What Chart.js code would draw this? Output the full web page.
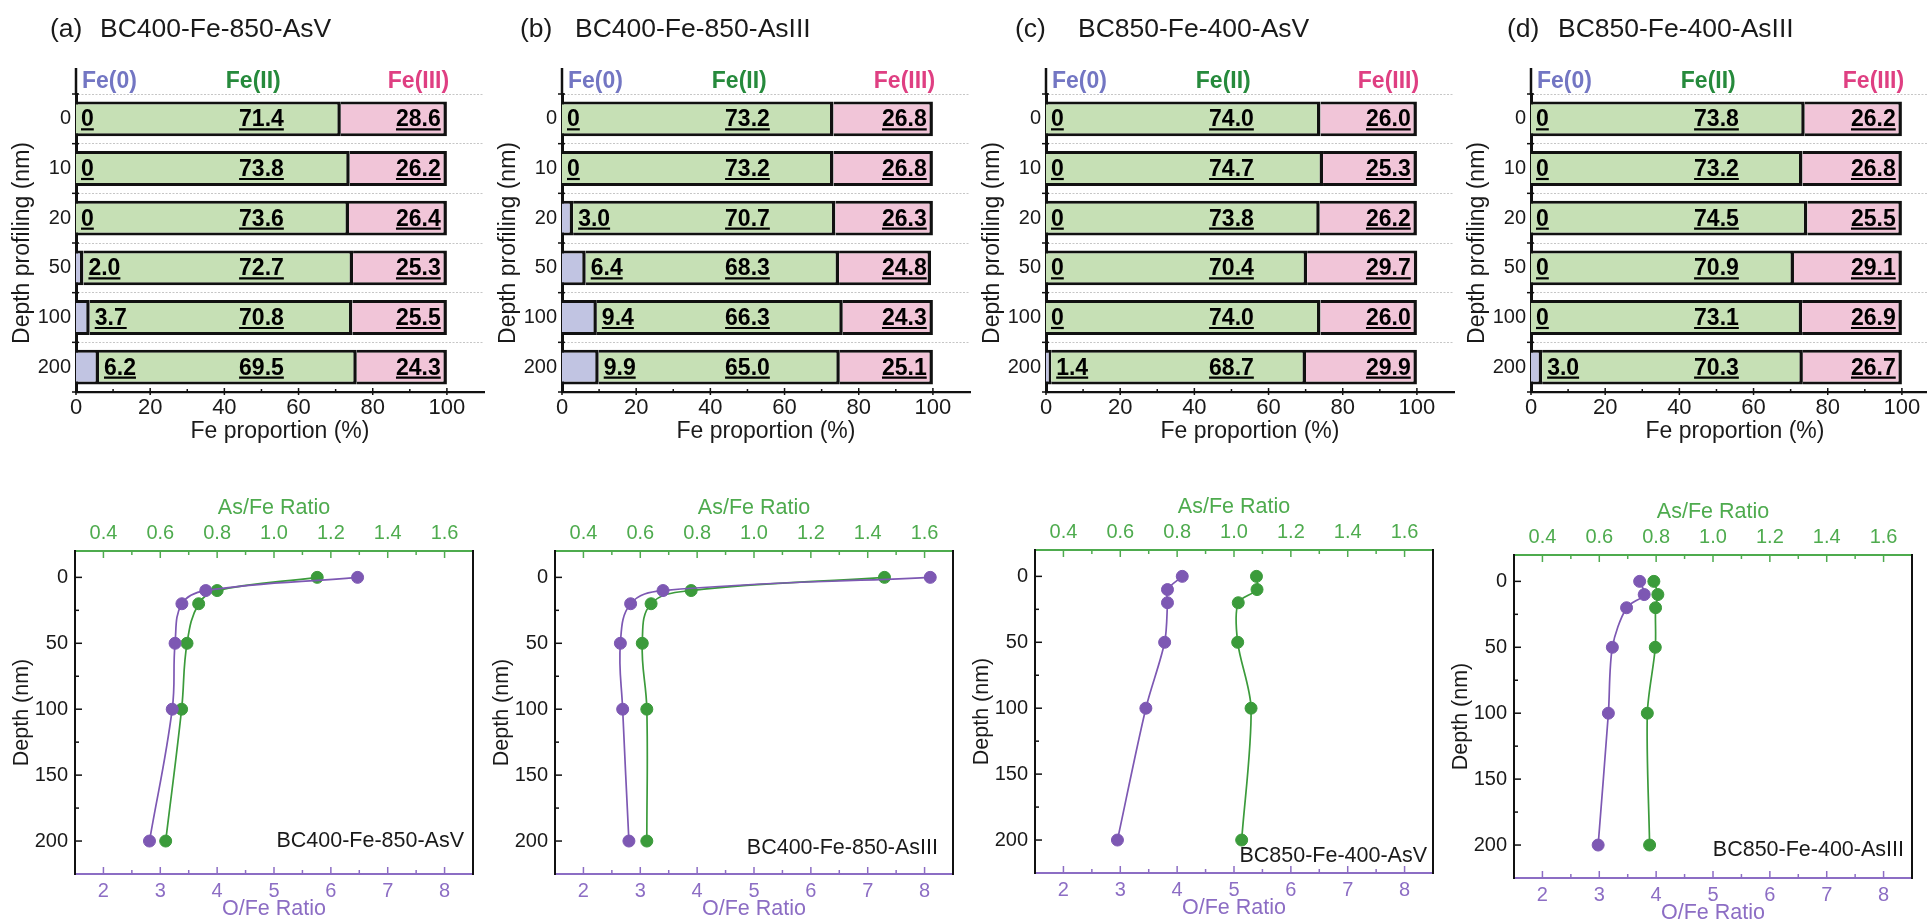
<!DOCTYPE html>
<html><head><meta charset="utf-8">
<script src="https://cdn.jsdelivr.net/npm/chart.js@4.4.1/dist/chart.umd.min.js"></script>
<style>
html,body{margin:0;padding:0;background:#fff;width:1927px;height:922px;overflow:hidden;position:relative;font-family:'Liberation Sans',Arial,Helvetica,sans-serif;}
canvas{position:absolute;}
.pt{position:absolute;font-size:26.5px;line-height:32px;color:#1a1a1a;white-space:nowrap;}
</style></head><body>
<script>
// ---------- data ----------
const depthLabels = ['0','10','20','50','100','200'];
const depthValues = [0,10,20,50,100,200];
const pctTicks = [0,20,40,60,80,100];
const oTicks = [2,3,4,5,6,7,8];
const asTicks = [0.4,0.6,0.8,1.0,1.2,1.4,1.6];
const depthTicks = [0,50,100,150,200];
const panelLetters = ['(a)','(b)','(c)','(d)'];
const panelNames = ['BC400-Fe-850-AsV','BC400-Fe-850-AsIII','BC850-Fe-400-AsV','BC850-Fe-400-AsIII'];
const speciesNames = ['Fe(0)','Fe(II)','Fe(III)'];

const fe0A = [0,0,0,2.0,3.7,6.2];
const fe2A = [71.4,73.8,73.6,72.7,70.8,69.5];
const fe3A = [28.6,26.2,26.4,25.3,25.5,24.3];
const fe0B = [0,0,3.0,6.4,9.4,9.9];
const fe2B = [73.2,73.2,70.7,68.3,66.3,65.0];
const fe3B = [26.8,26.8,26.3,24.8,24.3,25.1];
const fe0C = [0,0,0,0,0,1.4];
const fe2C = [74.0,74.7,73.8,70.4,74.0,68.7];
const fe3C = [26.0,25.3,26.2,29.7,26.0,29.9];
const fe0D = [0,0,0,0,0,3.0];
const fe2D = [73.8,73.2,74.5,70.9,73.1,70.3];
const fe3D = [26.2,26.8,25.5,29.1,26.9,26.7];

const ofeA = [6.47,3.80,3.38,3.26,3.21,2.81];
const asfeA = [1.152,0.800,0.735,0.694,0.675,0.619];
const ofeB = [8.10,3.40,2.83,2.65,2.69,2.80];
const asfeB = [1.459,0.779,0.638,0.607,0.623,0.623];
const ofeC = [4.09,3.83,3.83,3.78,3.45,2.95];
const asfeC = [1.079,1.081,1.015,1.013,1.060,1.027];
const ofeD = [3.71,3.79,3.48,3.23,3.16,2.98];
const asfeD = [0.792,0.806,0.798,0.797,0.769,0.777];

// ---------- styles ----------
const FONT = "'Liberation Sans', Arial, Helvetica, sans-serif";
const TXT = '#1a1a1a';
const FE0_FILL = '#c1c4e2', FE2_FILL = '#c6e0b5', FE3_FILL = '#f1c5d8';
const HEAD_COLORS = ['#7376c3', '#268a3c', '#df3f82'];
const PURPLE = '#7d58b3', PURPLE_TXT = '#8c6dc4';
const GREEN = '#3b9b3b', GREEN_TXT = '#4eab4e';

Chart.defaults.font.family = FONT;
Chart.defaults.color = TXT;

function makeCanvas(left, top, w, h) {
  const c = document.createElement('canvas');
  c.width = w; c.height = h;
  c.style.left = left + 'px'; c.style.top = top + 'px';
  c.style.width = w + 'px'; c.style.height = h + 'px';
  document.body.appendChild(c);
  return c;
}
function addText(cls, txt, left, top) {
  const d = document.createElement('div');
  d.className = cls; d.textContent = txt;
  d.style.left = left + 'px'; d.style.top = top + 'px';
  document.body.appendChild(d);
}
function tickLine(ctx, x1, y1, x2, y2) { ctx.beginPath(); ctx.moveTo(x1, y1); ctx.lineTo(x2, y2); ctx.stroke(); }

// ---------- top stacked bar panels ----------
function barDecor(p) {
  return {
    id: 'barDecor',
    afterDraw(chart) {
      const ctx = chart.ctx, xs = chart.scales.x, ys = chart.scales.y, ca = chart.chartArea;
      ctx.save();
      ctx.strokeStyle = '#111'; ctx.lineWidth = 2.5;
      tickLine(ctx, ca.left, ca.top - 26, ca.left, ca.top + 1);
      ctx.lineWidth = 1.5;
      for (let i = 0; i <= depthLabels.length; i++) {
        const y = ys.getPixelForValue(i - 0.5);
        tickLine(ctx, ca.left - 4, y, ca.left + 3, y);
      }
      for (const v of pctTicks) { const x = xs.getPixelForValue(v); tickLine(ctx, x, ca.bottom + 3, x, ca.bottom - 4); }
      for (let k = 0; k < pctTicks.length - 1; k++) {
        const x = xs.getPixelForValue((pctTicks[k] + pctTicks[k + 1]) / 2);
        tickLine(ctx, x, ca.bottom + 1, x, ca.bottom - 3);
      }
      // species headers
      ctx.font = 'bold 23px ' + FONT; ctx.textBaseline = 'middle';
      const hy = ca.top - 12;
      ctx.fillStyle = HEAD_COLORS[0]; ctx.textAlign = 'left';
      ctx.fillText(speciesNames[0], ca.left + 6, hy);
      ctx.fillStyle = HEAD_COLORS[1]; ctx.textAlign = 'center';
      ctx.fillText(speciesNames[1], xs.getPixelForValue(47.8), hy);
      ctx.fillStyle = HEAD_COLORS[2]; ctx.textAlign = 'right';
      ctx.fillText(speciesNames[2], xs.getPixelForValue(100.6), hy);
      // value labels (bold, underlined)
      ctx.fillStyle = '#000'; ctx.strokeStyle = '#000'; ctx.lineWidth = 2.2;
      ctx.textBaseline = 'alphabetic'; ctx.textAlign = 'left';
      const fmt = v => (v === 0 ? '0' : v.toFixed(1));
      for (let i = 0; i < depthLabels.length; i++) {
        const base = ys.getPixelForValue(i) + 7.5;
        const items = [
          [fmt(p.fe0[i]), xs.getPixelForValue(p.fe0[i]) + 5, 'left'],
          [fmt(p.fe2[i]), xs.getPixelForValue(50), 'center'],
          [fmt(p.fe3[i]), xs.getPixelForValue(92.3), 'center']
        ];
        for (const [t, x, al] of items) {
          const w = ctx.measureText(t).width;
          const x0 = al === 'left' ? x : x - w / 2;
          ctx.fillText(t, x0, base);
          tickLine(ctx, x0, base + 3, x0 + w, base + 3);
        }
      }
      ctx.restore();
    }
  };
}

function barChart(p) {
  const cv = makeCanvas(p.left, 0, 485, 450);
  const ds = [
    { label: speciesNames[0], data: p.fe0, backgroundColor: FE0_FILL },
    { label: speciesNames[1], data: p.fe2, backgroundColor: FE2_FILL },
    { label: speciesNames[2], data: p.fe3, backgroundColor: FE3_FILL }
  ].map(d => Object.assign(d, {
    borderColor: '#111', borderWidth: { top: 3, bottom: 3, left: 0, right: 3.5 },
    borderSkipped: false, barPercentage: 0.7, categoryPercentage: 1, inflateAmount: 0
  }));
  new Chart(cv, {
    type: 'bar',
    data: { labels: depthLabels, datasets: ds },
    options: {
      indexAxis: 'y', responsive: false, animation: false, devicePixelRatio: 1,
      layout: { padding: { top: 94, right: 1, left: 0, bottom: 0 } },
      plugins: { legend: { display: false }, tooltip: { enabled: false } },
      scales: {
        x: {
          type: 'linear', stacked: true, min: 0, max: 110,
          afterBuildTicks: s => { s.ticks = pctTicks.map(v => ({ value: v })); },
          afterFit: s => { s.height = 58; },
          grid: { display: false, drawTicks: false },
          border: { color: '#111', width: 2.2 },
          ticks: { font: { size: 22 }, color: TXT, padding: 3, autoSkip: false, maxRotation: 0 },
          title: { display: true, text: 'Fe proportion (%)', font: { size: 23 }, color: TXT, padding: { top: 0, bottom: 4.5 } }
        },
        y: {
          type: 'category', stacked: true, offset: true,
          afterFit: s => { s.width = 76; },
          grid: { display: true, color: '#c6c6c6', lineWidth: 1, drawTicks: false },
          border: { color: '#111', width: 3, dash: [2, 1.5] },
          ticks: { font: { size: 20 }, color: TXT, padding: 5 },
          title: { display: true, text: 'Depth profiling (nm)', font: { size: 23 }, color: TXT, padding: { top: 9, bottom: 0 } }
        }
      }
    },
    plugins: [barDecor(p)]
  });
}

// ---------- bottom ratio panels ----------
function lineDecor(p) {
  return {
    id: 'lineDecor',
    afterDraw(chart) {
      const ctx = chart.ctx, ca = chart.chartArea, xt = chart.scales.xt, xb = chart.scales.xb, ys = chart.scales.y;
      ctx.save();
      ctx.lineWidth = 2; ctx.strokeStyle = '#111';
      tickLine(ctx, ca.right, ca.top - 1, ca.right, ca.bottom + 1);
      ctx.lineWidth = 1.5;
      ctx.strokeStyle = GREEN_TXT;
      asTicks.forEach((v, k) => {
        const x = xt.getPixelForValue(v); tickLine(ctx, x, ca.top, x, ca.top + 7);
        if (k < asTicks.length - 1) { const xm = xt.getPixelForValue((v + asTicks[k + 1]) / 2); tickLine(ctx, xm, ca.top, xm, ca.top + 4); }
      });
      ctx.strokeStyle = PURPLE_TXT;
      oTicks.forEach((v, k) => {
        const x = xb.getPixelForValue(v); tickLine(ctx, x, ca.bottom, x, ca.bottom - 7);
        if (k < oTicks.length - 1) { const xm = xb.getPixelForValue((v + oTicks[k + 1]) / 2); tickLine(ctx, xm, ca.bottom, xm, ca.bottom - 4); }
      });
      ctx.strokeStyle = '#111';
      depthTicks.forEach((v, k) => {
        const y = ys.getPixelForValue(v); tickLine(ctx, ca.left, y, ca.left + 7, y);
        if (k < depthTicks.length - 1) { const ym = ys.getPixelForValue((v + depthTicks[k + 1]) / 2); tickLine(ctx, ca.left, ym, ca.left + 4, ym); }
      });
      ctx.fillStyle = TXT; ctx.font = '21.5px ' + FONT;
      ctx.textAlign = 'right'; ctx.textBaseline = 'middle';
      ctx.fillText(p.name, ca.right - p.annDx, ys.getPixelForValue(p.annDepth));
      ctx.restore();
    }
  };
}

function ratioChart(p) {
  const cv = makeCanvas(p.left, p.top, 480, 482);
  const common = { showLine: true, tension: p.tension, pointRadius: 6, pointHoverRadius: 6, borderWidth: 1.7, pointBorderWidth: 1 };
  new Chart(cv, {
    type: 'scatter',
    data: {
      datasets: [
        Object.assign({ label: 'O/Fe Ratio', data: depthValues.map((d, i) => ({ x: p.ofe[i], y: d })), xAxisID: 'xb', yAxisID: 'y', borderColor: PURPLE, backgroundColor: PURPLE }, common),
        Object.assign({ label: 'As/Fe Ratio', data: depthValues.map((d, i) => ({ x: p.asfe[i], y: d })), xAxisID: 'xt', yAxisID: 'y', borderColor: GREEN, backgroundColor: GREEN }, common)
      ]
    },
    options: {
      responsive: false, animation: false, devicePixelRatio: 1,
      layout: { padding: { top: 0, right: 1, left: 0, bottom: 0 } },
      plugins: { legend: { display: false }, tooltip: { enabled: false } },
      scales: {
        xt: {
          type: 'linear', position: 'top', min: 0.3, max: 1.7,
          afterBuildTicks: s => { s.ticks = asTicks.map(v => ({ value: v })); },
          afterFit: s => { s.height = 111; },
          grid: { display: false, drawTicks: false },
          border: { color: GREEN_TXT, width: 2 },
          ticks: { font: { size: 20 }, color: GREEN_TXT, padding: 6, autoSkip: false, maxRotation: 0, callback: v => Number(v).toFixed(1) },
          title: { display: true, text: 'As/Fe Ratio', font: { size: 21.5 }, color: GREEN_TXT, padding: { top: 55, bottom: 0 } }
        },
        xb: {
          type: 'linear', position: 'bottom', min: 1.5, max: 8.5,
          afterBuildTicks: s => { s.ticks = oTicks.map(v => ({ value: v })); },
          afterFit: s => { s.height = 48; },
          grid: { display: false, drawTicks: false },
          border: { color: PURPLE_TXT, width: 2 },
          ticks: { font: { size: 20 }, color: PURPLE_TXT, padding: 5, autoSkip: false, maxRotation: 0 },
          title: { display: true, text: 'O/Fe Ratio', font: { size: 21.5 }, color: PURPLE_TXT, padding: { top: 0, bottom: 0 } }
        },
        y: {
          type: 'linear', position: 'left', min: -20, max: 225, reverse: true,
          afterBuildTicks: s => { s.ticks = depthTicks.map(v => ({ value: v })); },
          afterFit: s => { s.width = 75; },
          grid: { display: false, drawTicks: false },
          border: { color: '#111', width: 2 },
          ticks: { font: { size: 20 }, color: TXT, padding: 7, autoSkip: false },
          title: { display: true, text: 'Depth (nm)', font: { size: 21.5 }, color: TXT, padding: { top: 9, bottom: 0 } }
        }
      }
    },
    plugins: [lineDecor(p)]
  });
}

// ---------- build panels ----------
const topPanels = [
  { left: 0, fe0: fe0A, fe2: fe2A, fe3: fe3A, letterX: 50, nameX: 100 },
  { left: 486, fe0: fe0B, fe2: fe2B, fe3: fe3B, letterX: 520, nameX: 575 },
  { left: 970, fe0: fe0C, fe2: fe2C, fe3: fe3C, letterX: 1015, nameX: 1078 },
  { left: 1455, fe0: fe0D, fe2: fe2D, fe3: fe3D, letterX: 1507, nameX: 1558 }
];
topPanels.forEach((p, i) => {
  barChart(p);
  addText('pt', panelLetters[i], p.letterX, 11.5);
  addText('pt', panelNames[i], p.nameX, 11.5);
});

const bottomPanels = [
  { left: 0, top: 440, ofe: ofeA, asfe: asfeA, tension: 0.4, annDx: 9, annDepth: 200 },
  { left: 480, top: 440, ofe: ofeB, asfe: asfeB, tension: 0.4, annDx: 15, annDepth: 205 },
  { left: 960, top: 439, ofe: ofeC, asfe: asfeC, tension: 0.3, annDx: 6, annDepth: 212 },
  { left: 1439, top: 444, ofe: ofeD, asfe: asfeD, tension: 0.3, annDx: 8, annDepth: 204 }
];
bottomPanels.forEach((p, i) => { p.name = panelNames[i]; ratioChart(p); });
</script>
</body></html>
